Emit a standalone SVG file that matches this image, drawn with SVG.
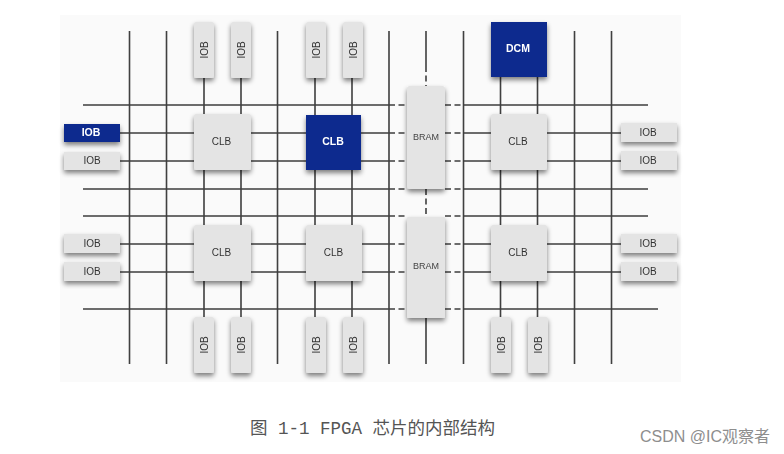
<svg xmlns="http://www.w3.org/2000/svg" width="784" height="454" viewBox="0 0 784 454">
<defs>
<filter id="sh" x="-30%" y="-30%" width="160%" height="170%"><feGaussianBlur in="SourceAlpha" stdDeviation="2.4"/><feOffset dy="3"/><feComponentTransfer><feFuncA type="linear" slope="0.5"/></feComponentTransfer><feMerge><feMergeNode/><feMergeNode in="SourceGraphic"/></feMerge></filter>
<filter id="soft" x="0" y="0" width="784" height="454" filterUnits="userSpaceOnUse"><feGaussianBlur stdDeviation="0.5"/></filter>
</defs>
<style>
.w{fill:#e4e4e4;filter:url(#sh)}
.b{fill:#0a2c8e;filter:url(#sh)}
.l{stroke:#3f3f3f;stroke-width:1.6;fill:none}
.d{stroke:#3f3f3f;stroke-width:1.6;fill:none;stroke-dasharray:6 3.5}
text{font-family:"Liberation Sans","DejaVu Sans",sans-serif;text-anchor:middle}
.t{font-size:10px;fill:#333}
.n{font-size:9px;fill:#444}
.v{font-size:10px;fill:#333}
.h{font-size:10.500px;fill:#fff;font-weight:bold}
.c{font-family:"Liberation Mono","Noto Sans CJK SC",monospace;font-size:17.500px;fill:#555;text-anchor:start}
.m{font-size:16px;fill:#8e8e8e;text-anchor:start;font-family:"Liberation Sans","Noto Sans CJK SC",sans-serif}
</style>
<rect width="784" height="454" fill="#fff"/>
<rect x="60" y="15" width="621" height="367" fill="#fafafa"/>
<g filter="url(#soft)">
<g id="connectors">
<path class="l" d="M129.500 31V364M166.500 31V364M277.500 31V364M389 31V364M463.500 31V364M574.500 31V364M611.500 31V364"/>
<path class="l" d="M204 78V317M241 78V317M315 78V317M352 78V317M500.500 77V317M537.500 77V317"/>
<path class="l" d="M426 31V66M426 318V364"/>
<path class="d" d="M426 66V86M426 189V217"/>
<path class="l" d="M83 105H389M120 133H389M120 161H389M83 189H389M83 216H389M120 244H389M120 272H389M83 309H389"/>
<path class="d" d="M389 105H408M389 133H408M389 161H408M389 189H408M389 216H408M389 244H408M389 272H408M389 309H408"/>
<path class="d" d="M445 105H463M445 133H463M445 161H463M445 189H463M445 216H463M445 244H463M445 272H463M445 309H463"/>
<path class="l" d="M463 105H648M463 133H621M463 161H621M463 189H648M463 216H648M463 244H621M463 272H621M463 309H658"/>
</g>
<g id="iob-t1"><rect class="w" x="194" y="22" width="20" height="56" rx="2"/><text class="v" transform="translate(207.500 50) rotate(-90)">IOB</text></g>
<g id="iob-t2"><rect class="w" x="231" y="22" width="20" height="56" rx="2"/><text class="v" transform="translate(244.500 50) rotate(-90)">IOB</text></g>
<g id="iob-t3"><rect class="w" x="306" y="22" width="20" height="56" rx="2"/><text class="v" transform="translate(319.500 50) rotate(-90)">IOB</text></g>
<g id="iob-t4"><rect class="w" x="343" y="22" width="20" height="56" rx="2"/><text class="v" transform="translate(356.500 50) rotate(-90)">IOB</text></g>
<g id="dcm"><rect class="b" x="491" y="22" width="56" height="55"/><text class="h" x="518" y="52">DCM</text></g>
<g id="iob-l1"><rect class="b" x="64" y="124" width="56" height="18"/><text class="h" x="91" y="136">IOB</text></g>
<g id="iob-l2"><rect class="w" x="64" y="152" width="56" height="18"/><text class="t" x="92" y="164">IOB</text></g>
<g id="iob-l3"><rect class="w" x="64" y="234" width="56" height="19"/><text class="t" x="92" y="247">IOB</text></g>
<g id="iob-l4"><rect class="w" x="64" y="262" width="56" height="19"/><text class="t" x="92" y="275">IOB</text></g>
<g id="clb-1"><rect class="w" x="194" y="114" width="57" height="56" rx="2"/><text class="t" x="221.500" y="145">CLB</text></g>
<g id="clb-2"><rect class="b" x="306" y="115" width="55" height="55"/><text class="h" x="333" y="145">CLB</text></g>
<g id="clb-3"><rect class="w" x="491" y="114" width="56" height="56" rx="2"/><text class="t" x="518" y="145">CLB</text></g>
<g id="clb-4"><rect class="w" x="194" y="225" width="57" height="56" rx="2"/><text class="t" x="221.500" y="256">CLB</text></g>
<g id="clb-5"><rect class="w" x="306" y="225" width="56" height="56" rx="2"/><text class="t" x="333.500" y="256">CLB</text></g>
<g id="clb-6"><rect class="w" x="491" y="225" width="56" height="56" rx="2"/><text class="t" x="518" y="256">CLB</text></g>
<g id="bram-1"><rect class="w" x="407" y="86" width="38" height="103" rx="3"/><text class="n" x="426" y="139.500">BRAM</text></g>
<g id="bram-2"><rect class="w" x="407" y="217" width="38" height="101" rx="1"/><text class="n" x="426" y="269">BRAM</text></g>
<g id="iob-r1"><rect class="w" x="621" y="123" width="56" height="19"/><text class="t" x="648" y="135.500">IOB</text></g>
<g id="iob-r2"><rect class="w" x="621" y="151" width="56" height="19"/><text class="t" x="648" y="163.500">IOB</text></g>
<g id="iob-r3"><rect class="w" x="621" y="234" width="56" height="19"/><text class="t" x="648" y="247">IOB</text></g>
<g id="iob-r4"><rect class="w" x="621" y="262" width="56" height="19"/><text class="t" x="648" y="275">IOB</text></g>
<g id="iob-b1"><rect class="w" x="194" y="317" width="20" height="56" rx="2"/><text class="v" transform="translate(207.500 345) rotate(-90)">IOB</text></g>
<g id="iob-b2"><rect class="w" x="231" y="317" width="20" height="56" rx="2"/><text class="v" transform="translate(244.500 345) rotate(-90)">IOB</text></g>
<g id="iob-b3"><rect class="w" x="306" y="317" width="20" height="56" rx="2"/><text class="v" transform="translate(319.500 345) rotate(-90)">IOB</text></g>
<g id="iob-b4"><rect class="w" x="343" y="317" width="20" height="56" rx="2"/><text class="v" transform="translate(356.500 345) rotate(-90)">IOB</text></g>
<g id="iob-b5"><rect class="w" x="491" y="317" width="20" height="56" rx="2"/><text class="v" transform="translate(504.500 345) rotate(-90)">IOB</text></g>
<g id="iob-b6"><rect class="w" x="528" y="317" width="20" height="56" rx="2"/><text class="v" transform="translate(541.500 345) rotate(-90)">IOB</text></g>
</g>
<text class="c" x="250" y="434">图 1-1 FPGA 芯片的内部结构</text>
<text class="m" x="640" y="442">CSDN @IC观察者</text>
</svg>
